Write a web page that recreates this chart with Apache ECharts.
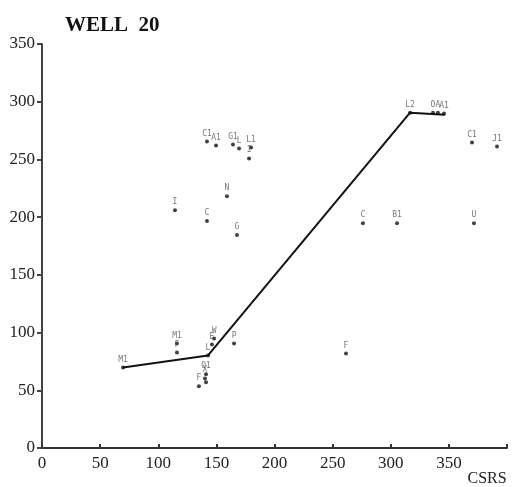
<!DOCTYPE html>
<html>
<head>
<meta charset="utf-8">
<script src="https://cdn.jsdelivr.net/npm/echarts@6/dist/echarts.min.js"></script>
<style>
  body { margin: 0; background: #fff; }
  #chart { width: 514px; height: 487px; }
</style>
</head>
<body>
<div id="chart"></div>
<script>
// sample points (CSRS, depth value) with their labels
var pointNames = ['C1', 'A1', 'G1', 'L', 'L1', 'I', 'N', 'I', 'C', 'G',
                  'C', 'B1', 'U', 'C1', 'J1',
                  'L2', 'O', 'A', 'A1',
                  'M1', 'L', 'M1', 'F', 'W', 'E', 'P', 'F',
                  'O1', 'X', '', 'F'];
var pointX = [141.9, 149.7, 164.3, 169.5, 179.8, 178.1, 159.1, 114.4, 141.9, 167.7,
              276.1, 305.4, 371.6, 369.9, 391.4,
              316.6, 336.3, 340.6, 345.8,
              69.7, 142.8, 116.1, 116.1, 148.0, 146.2, 165.2, 261.5,
              141.1, 140.2, 141.1, 135.0];
var pointY = [265.5, 262.1, 262.9, 259.5, 260.3, 250.9, 218.1, 206.0, 196.6, 184.5,
              194.8, 194.8, 194.8, 264.7, 261.2,
              290.5, 290.5, 290.5, 289.7,
              69.8, 80.2, 90.5, 82.8, 94.8, 89.7, 90.5, 81.9,
              63.8, 60.3, 56.9, 53.4];

// trend line
var lineX = [69.7, 142.8, 316.6, 346.7];
var lineY = [69.8, 80.2, 290.5, 288.8];

var xTicks = [0, 50, 100, 150, 200, 250, 300, 350];

var serif = '"Liberation Serif", "DejaVu Serif", serif';

var points = pointX.map(function (x, i) { return [x, pointY[i], pointNames[i]]; });
var line = lineX.map(function (x, i) { return [x, lineY[i]]; });

var chart = echarts.init(document.getElementById('chart'));
chart.setOption({
    animation: false,
    title: {
        text: 'WELL  20',
        left: 60,
        top: 10,
        textStyle: { fontFamily: serif, fontWeight: 'bold', fontSize: 21, color: '#111' }
    },
    grid: { left: 42, right: 7, top: 44, bottom: 37 },
    xAxis: {
        type: 'value',
        min: 0,
        max: 400,
        interval: 50,
        name: 'CSRS',
        nameLocation: 'end',
        nameGap: -46,
        nameTextStyle: {
            fontFamily: serif, fontSize: 16, color: '#222',
            align: 'left', verticalAlign: 'top', padding: [23, 0, 0, 0]
        },
        splitLine: { show: false },
        axisLine: { lineStyle: { color: '#333', width: 2 } },
        axisTick: { inside: true, length: 4, lineStyle: { color: '#333', width: 2 } },
        axisLabel: {
            fontFamily: serif, fontSize: 17, color: '#222', margin: 7,
            formatter: function (v) { return xTicks.indexOf(v) >= 0 ? String(v) : ''; }
        }
    },
    yAxis: {
        type: 'value',
        min: 0,
        max: 350,
        interval: 50,
        splitLine: { show: false },
        axisLine: { show: true, lineStyle: { color: '#444', width: 2 } },
        axisTick: { show: true, length: 5, lineStyle: { color: '#444', width: 2 } },
        axisLabel: { fontFamily: serif, fontSize: 17, color: '#222', margin: 7 }
    },
    series: [
        {
            type: 'line',
            data: line,
            symbol: 'none',
            lineStyle: { color: '#111', width: 2 },
            z: 2
        },
        {
            type: 'scatter',
            data: points,
            symbolSize: 4,
            itemStyle: { color: '#111' },
            label: {
                show: true,
                position: 'top',
                distance: 2,
                formatter: function (p) { return p.data[2]; },
                fontFamily: '"DejaVu Sans Mono", monospace',
                fontSize: 8,
                color: '#555'
            },
            z: 3
        }
    ]
});
</script>
</body>
</html>
